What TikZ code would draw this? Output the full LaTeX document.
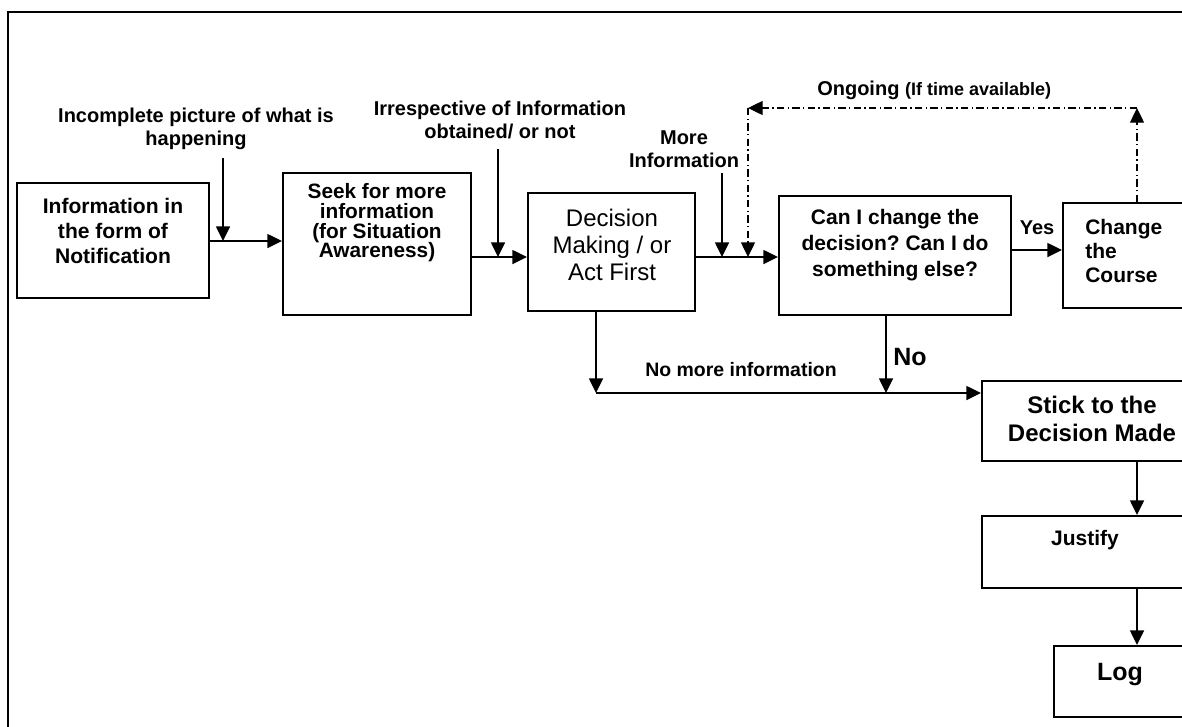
\documentclass[tikz,border=0pt]{standalone}
\usepackage{fontspec}
\setmainfont{Liberation Sans}
\usetikzlibrary{arrows.meta,fit}
\newcommand{\fsz}[2]{\fontsize{#1}{#2}\selectfont}
\frenchspacing
\begin{document}
\begin{tikzpicture}[x=0.75pt,y=-0.75pt,
  box/.style={draw, line width=1.5pt, inner sep=0pt, rectangle},
  txt/.style={inner sep=0pt, align=center},
  arr/.style={line width=1.1pt, -{Triangle[length=11pt,width=10.5pt]}},
  dashdot/.style={line width=1pt, dash pattern=on 5.5pt off 2.5pt on 1pt off 2.5pt,
                  -{Triangle[length=11pt,width=10.5pt]}}
]
\useasboundingbox (0,0) rectangle (1182,726);
\clip (0,0) rectangle (1182,726);

% page frame
\draw[line width=1.5pt] (8,760) -- (8,12) -- (1220,12);

% boxes
\node[box, fit={(17,183) (209,298)}] (n1) {};
\node[box, fit={(283,173) (471,315)}] (n2) {};
\node[box, fit={(528,193) (695,311)}] (n3) {};
\node[box, fit={(779,196) (1011,315)}] (n4) {};
\node[box, fit={(1063,203) (1211,308)}] (n5) {};
\node[box, fit={(982,381) (1202,461)}] (n6) {};
\node[box, fit={(982,516) (1200,588)}] (n7) {};
\node[box, fit={(1054,646) (1200,717)}] (n8) {};

% box texts
\node[txt, font=\bfseries\fsz{15.8}{18.75}] (t1) at (113,231) {Information in\\the form of\\Notification};
\node[txt, font=\bfseries\fsz{15.6}{14.8}] (t2) at (377,223) {Seek for more\\information\\(for Situation\\Awareness)};
\node[txt, font=\fsz{18}{20.25}] (t3) at (612,245) {Decision\\Making / or\\Act First};
\node[txt, font=\bfseries\fsz{15.75}{19.5}] (t4) at (895,245) {Can I change the\\decision? Can I do\\something else?};
\node[txt, align=left, anchor=west, font=\bfseries\fsz{15.75}{18}] (t5) at (1085,251) {Change\\the\\Course};
\node[txt, font=\bfseries\fsz{18}{21}] (t6) at (1092,419) {Stick to the\\Decision Made};
\node[txt, font=\bfseries\fsz{15.75}{18}] (t7) at (1085,540) {Justify};
\node[txt, font=\bfseries\fsz{18.75}{21}] (t8) at (1120,675) {Log};

% side labels
\node[txt, font=\bfseries\fsz{15}{16.9}] (l1) at (196,129) {Incomplete picture of what is\\happening};
\node[txt, font=\bfseries\fsz{15}{17.2}] (l2) at (500,120) {Irrespective of Information\\obtained/ or not};
\node[txt, font=\bfseries\fsz{15}{17.2}] (l3) at (684,149) {More\\Information};
\node[txt, anchor=west, font=\bfseries\fsz{15}{18}] (l4) at (817,90) {Ongoing {\fsz{13.5}{16}(If time available)}};
\node[txt, font=\bfseries\fsz{15}{18}] (l5) at (1037,228) {Yes};
\node[txt, font=\bfseries\fsz{14.6}{17}] (l6) at (741,370) {No more information};
\node[txt, font=\bfseries\fsz{18.75}{21}] (l7) at (910,357) {No};

% junction points
\coordinate (s1) at (223,158);  \coordinate (j1) at (223,241);
\coordinate (s2) at (498,149);  \coordinate (j2) at (498,257);
\coordinate (s3) at (722,173);  \coordinate (j3) at (722,257);
\coordinate (d1) at (748,108);  \coordinate (j4) at (748,257);
\coordinate (d2) at (1137,108);
\coordinate (m1) at (596,393);  \coordinate (m2) at (886,393);
\coordinate (r2) at (0,257);    \coordinate (r4) at (0,250);

% main flow
\draw[arr] (n1.east |- j1) -- (n2.west |- j1);
\draw[arr] (n2.east |- r2) -- (n3.west |- r2);
\draw[arr] (n3.east |- r2) -- (n4.west |- r2);
\draw[arr] (n4.east |- r4) -- (n5.west |- r4);

% incoming arrows from the labels
\draw[arr] (s1) -- (j1);
\draw[arr] (s2) -- (j2);
\draw[arr] (s3) -- (j3);

% ongoing loop
\draw[dashdot] (n5.north -| d2) -- (d2);
\draw[dashdot] (d2) -- (d1);
\draw[dashdot] (d1) -- (j4);

% lower branch
\draw[arr] (n3.south -| m1) -- (m1);
\draw[arr] (n4.south -| m2) -- (m2);
\draw[arr] (m1) -- (n6.west |- m1);

% right column
\draw[arr] (n6.south -| d2) -- (n7.north -| d2);
\draw[arr] (n7.south -| d2) -- (n8.north -| d2);
\end{tikzpicture}
\end{document}
